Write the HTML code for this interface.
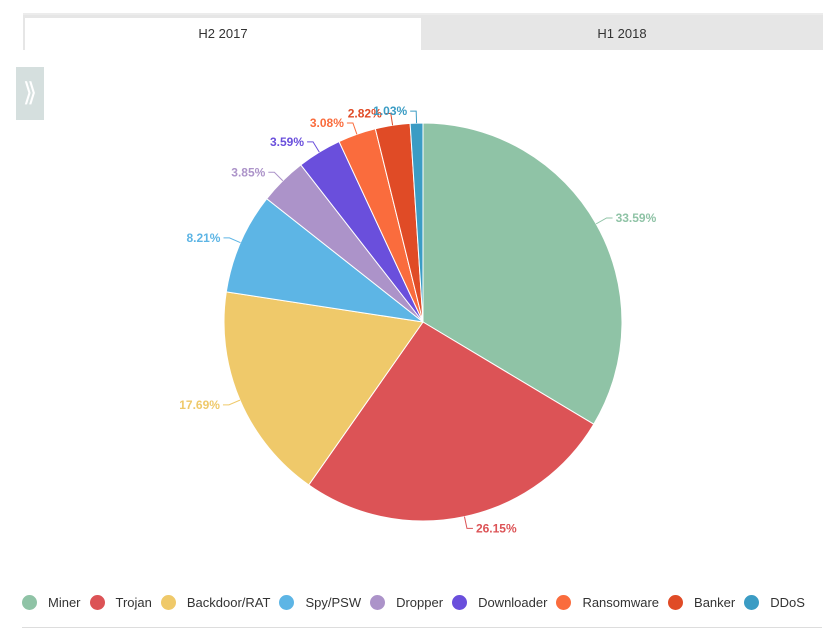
<!DOCTYPE html>
<html><head><meta charset="utf-8"><style>
body{margin:0;width:835px;height:639px;background:#fff;font-family:"Liberation Sans",sans-serif;position:relative;overflow:hidden}
.tabs{position:absolute;left:23px;top:13px;width:800px;height:37px;background:#e6e6e6;border-top:2px solid #ececec;box-sizing:border-box}
.tab{position:absolute;top:3px;height:34px;line-height:32px;text-align:center;font-size:13px;color:#333}
.side{position:absolute;left:16px;top:67px;width:28px;height:53px;background:#d5dfde;color:#fff;font-size:26px;line-height:50px;text-align:center}
.legend{position:absolute;left:22px;top:595px;font-size:13px;color:#333;white-space:nowrap}
.legend span{display:inline-block;margin-right:9px}
.legend i{display:inline-block;width:15px;height:15px;border-radius:50%;vertical-align:-3px;margin-right:11px}
.rule{position:absolute;left:22px;top:627px;width:800px;height:1px;background:#ddd}
</style></head><body>
<div class="tabs">
<div class="tab" style="left:2px;width:396px;background:#fff">H2 2017</div>
<div class="tab" style="left:398px;width:402px">H1 2018</div>
</div>
<div class="side">⟫</div>
<svg id="chart" width="835" height="590" style="position:absolute;left:0;top:0"></svg>
<div class="legend" id="legend"></div>
<div class="rule"></div>
<script>
const categories=["Miner","Trojan","Backdoor/RAT","Spy/PSW","Dropper","Downloader","Ransomware","Banker","DDoS"];
const values=[33.59,26.15,17.69,8.21,3.85,3.59,3.08,2.82,1.03];
const labels=["33.59%","26.15%","17.69%","8.21%","3.85%","3.59%","3.08%","2.82%","1.03%"];
const colors=["#8fc3a6","#dc5356","#efc96a","#5db5e5","#ac93c9","#6a4fdc","#fa6c3d","#e04b26","#3b9cc4"];
const NS="http://www.w3.org/2000/svg",svg=document.getElementById('chart');
const cx=423,cy=322,r=199;
const total=values.reduce((a,b)=>a+b,0);
function pt(a,rr){return [cx+rr*Math.sin(a),cy-rr*Math.cos(a)];}
let acc=0;
values.forEach((v,i)=>{
 const a0=acc/total*2*Math.PI;acc+=v;const a1=acc/total*2*Math.PI;
 const p0=pt(a0,r),p1=pt(a1,r);
 const path=document.createElementNS(NS,'path');
 path.setAttribute('d',`M${cx},${cy}L${p0[0]},${p0[1]}A${r},${r} 0 ${a1-a0>Math.PI?1:0} 1 ${p1[0]},${p1[1]}Z`);
 path.setAttribute('fill',colors[i]);path.setAttribute('stroke','#fff');path.setAttribute('stroke-width','1');
 
 
 svg.appendChild(path);
 const am=(a0+a1)/2,q0=pt(am,r),q1=pt(am,r+12);
 const right=Math.sin(am)>=0;
 const ln=document.createElementNS(NS,'polyline');
 const q2=[q1[0]+(right?6:-6),q1[1]];
 ln.setAttribute('points',`${q0[0]},${q0[1]} ${q1[0]},${q1[1]} ${q2[0]},${q2[1]}`);
 ln.setAttribute('fill','none');ln.setAttribute('stroke',colors[i]);
 
 
 svg.appendChild(ln);
 const t=document.createElementNS(NS,'text');
 t.setAttribute('x',q2[0]+(right?3:-3));t.setAttribute('y',q2[1]+4);
 t.setAttribute('text-anchor',right?'start':'end');t.setAttribute('fill',colors[i]);
 t.setAttribute('font-size','12');t.setAttribute('font-weight','bold');
 t.setAttribute('font-family','Liberation Sans, sans-serif');
 t.textContent=labels[i];
 
 
 svg.appendChild(t);
});
const lg=document.getElementById('legend');
categories.forEach((c,i)=>{
 const s=document.createElement('span');
 s.innerHTML=`<i style="background:${colors[i]}"></i>${c}`;
 
 
 lg.appendChild(s);
});
</script>
</body></html>
